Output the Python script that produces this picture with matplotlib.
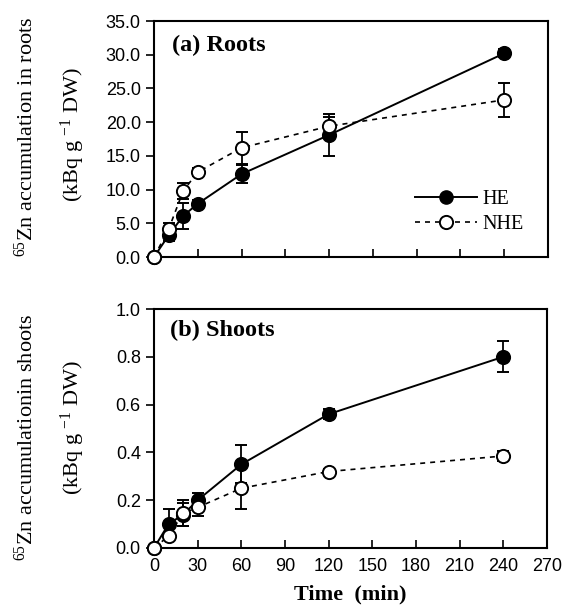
import matplotlib
matplotlib.use("Agg")
import matplotlib.pyplot as plt
from matplotlib.ticker import FixedLocator
from matplotlib.lines import Line2D

plt.rcParams['mathtext.fontset'] = 'custom'
plt.rcParams['mathtext.rm'] = 'Liberation Serif'
plt.rcParams['mathtext.it'] = 'Liberation Serif:italic'
plt.rcParams['mathtext.bf'] = 'Liberation Serif:bold'

# ---- data ----
time_min = [0, 10, 20, 30, 60, 120, 240]

roots_he = [0.0, 3.2, 6.1, 7.9, 12.3, 18.1, 30.2]
roots_he_err = [0.0, 0.8, 1.9, 0.6, 1.3, 3.1, 0.6]
roots_nhe = [0.0, 4.1, 9.8, 12.6, 16.2, 19.4, 23.3]
roots_nhe_err = [0.0, 1.0, 1.2, 0.6, 2.4, 1.4, 2.5]

shoots_he = [0.0, 0.10, 0.14, 0.20, 0.35, 0.56, 0.80]
shoots_he_err = [0.0, 0.065, 0.05, 0.03, 0.08, 0.02, 0.065]
shoots_nhe = [0.0, 0.05, 0.145, 0.17, 0.25, 0.32, 0.385]
shoots_nhe_err = [0.0, 0.01, 0.055, 0.035, 0.087, 0.01, 0.02]

x_ticks = [0, 30, 60, 90, 120, 150, 180, 210, 240, 270]
roots_yticks = [0, 5, 10, 15, 20, 25, 30, 35]
shoots_yticks = [0.0, 0.2, 0.4, 0.6, 0.8, 1.0]

serif = "Liberation Serif"
sans = "Liberation Sans"
TICK_FS = 13

fig = plt.figure(figsize=(5.68, 6.12), dpi=100)
ax1 = fig.add_axes([154/568, 1-257/612, 394/568, 236/612])
ax2 = fig.add_axes([154/568, 1-548/612, 393/568, 239/612])

def draw(ax, he, he_err, nhe, nhe_err):
    for y, e, ls, fc, z in ((he, he_err, '-', 'black', 3), (nhe, nhe_err, '--', 'white', 4)):
        line, caps, bars = ax.errorbar(time_min, y, yerr=e, fmt='o', ls=ls, color='black',
                                       lw=1.4 if ls == '-' else 1.2, ms=9.5, mfc=fc, mec='black',
                                       mew=1.4, capsize=4, elinewidth=1.3, capthick=1.3,
                                       zorder=z)
        if ls == '--':
            line.set_dashes((3, 3))
        line.set_clip_on(False)
        for c in caps:
            c.set_clip_on(False)
        for b in bars:
            b.set_clip_on(False)
    ax.set_xlim(0, 270)
    ax.xaxis.set_major_locator(FixedLocator(x_ticks))
    ax.tick_params(axis='x', direction='in', length=6, width=1.2)
    ax.tick_params(axis='y', direction='out', length=6, width=1.2)
    for s in ax.spines.values():
        s.set_linewidth(1.5)

draw(ax1, roots_he, roots_he_err, roots_nhe, roots_nhe_err)
ax1.set_ylim(0, 35)
ax1.set_yticks(roots_yticks)
ax1.set_yticklabels([f"{v:.1f}" for v in roots_yticks], fontfamily=sans, fontsize=TICK_FS)
ax1.set_xticklabels([])
ax1.text(18/394, 1-14/236, "(a) Roots", transform=ax1.transAxes, fontfamily=serif,
         fontweight='bold', fontsize=17.5, va='top', ha='left')

handles = [Line2D([], [], color='black', lw=1.4, marker='o', ms=9.5, mfc='black', mec='black'),
           Line2D([], [], color='black', lw=1.2, ls=(0, (3, 3)), marker='o', ms=9.5,
                  mfc='white', mec='black', mew=1.4)]
ax1.legend(handles, ['HE', 'NHE'], loc='center left',
           bbox_to_anchor=((415-154)/394, (257-212)/236), frameon=False,
           borderpad=0, borderaxespad=0, prop={'family': serif, 'size': 14.5},
           handlelength=3.1, handletextpad=0.25, labelspacing=0.25)

draw(ax2, shoots_he, shoots_he_err, shoots_nhe, shoots_nhe_err)
ax2.set_ylim(0, 1.0)
ax2.set_yticks(shoots_yticks)
ax2.set_yticklabels([f"{v:.1f}" for v in shoots_yticks], fontfamily=sans, fontsize=TICK_FS)
ax2.set_xticklabels([str(v) for v in x_ticks], fontfamily=sans, fontsize=TICK_FS)
ax2.tick_params(axis='x', pad=7)
ax2.text(16/393, 1-11/239, "(b) Shoots", transform=ax2.transAxes, fontfamily=serif,
         fontweight='bold', fontsize=17.5, va='top', ha='left')
ax2.set_xlabel("Time  (min)", fontfamily=serif, fontweight='bold', fontsize=16, labelpad=7)

LBL_FS = 16
fig.text(26/568, 1-137/612, r"$^{65}$Zn accumulation in roots", rotation=90,
         ha='center', va='center', fontfamily=serif, fontsize=LBL_FS)
fig.text(73/568, 1-134/612, r"(kBq g $^{-1}$ DW)", rotation=90,
         ha='center', va='center', fontfamily=serif, fontsize=LBL_FS)
fig.text(26/568, 1-437/612, r"$^{65}$Zn accumulationin shoots", rotation=90,
         ha='center', va='center', fontfamily=serif, fontsize=LBL_FS)
fig.text(73/568, 1-427/612, r"(kBq g $^{-1}$ DW)", rotation=90,
         ha='center', va='center', fontfamily=serif, fontsize=LBL_FS)

fig.savefig("out.png", dpi=100)
